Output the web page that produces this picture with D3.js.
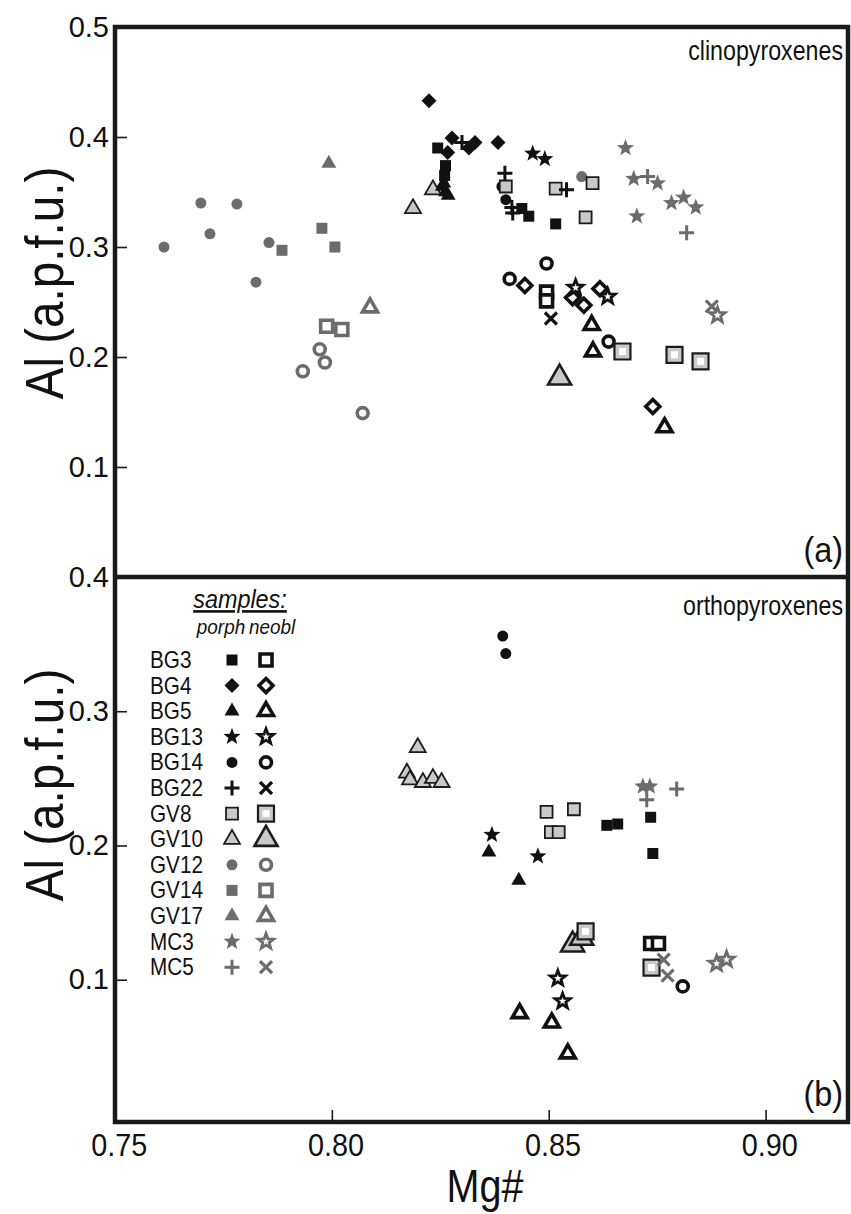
<!DOCTYPE html>
<html><head><meta charset="utf-8">
<script src="https://cdn.jsdelivr.net/npm/d3@7"></script>
<style>body{margin:0;background:#fff} svg{display:block;font-family:"Liberation Sans",Arial,sans-serif}</style>
</head><body><svg id="c" width="851" height="1214"></svg>
<script>
// ---------------- DATA ----------------
const samples = ["BG3","BG4","BG5","BG13","BG14","BG22","GV8","GV10","GV12","GV14","GV17","MC3","MC5"];
const xTicks = [0.75, 0.80, 0.85, 0.90];
const cpxTicks = [0.1, 0.2, 0.3, 0.4, 0.5];
const opxTicks = [0.1, 0.2, 0.3, 0.4];

// clinopyroxenes, porphyroclasts: [sample, Mg#, Al]
const cpxPorph = [
  ["GV12",0.7698,0.340],["GV12",0.7781,0.339],["GV12",0.7719,0.312],["GV12",0.7613,0.300],["GV12",0.7855,0.304],["GV12",0.7825,0.268],["GV12",0.8576,0.364],
  ["GV14",0.7885,0.297],["GV14",0.7977,0.317],["GV14",0.8007,0.300],
  ["GV17",0.7993,0.376],
  ["GV10",0.8187,0.335],["GV10",0.8233,0.352],
  ["BG14",0.8392,0.355],["BG14",0.8401,0.343],
  ["GV8",0.8401,0.355],["GV8",0.8516,0.353],["GV8",0.8601,0.358],["GV8",0.8585,0.327],
  ["BG4",0.8224,0.433],["BG4",0.8277,0.399],["BG4",0.8267,0.386],["BG4",0.8316,0.390],["BG4",0.8330,0.395],["BG4",0.8383,0.395],
  ["BG3",0.8244,0.390],["BG3",0.8262,0.374],["BG3",0.8260,0.365],["BG3",0.8438,0.335],["BG3",0.8454,0.328],["BG3",0.8516,0.321],
  ["BG5",0.8258,0.358],["BG5",0.8262,0.350],["BG5",0.8255,0.355],["BG5",0.8268,0.347],
  ["BG22",0.8300,0.395],["BG22",0.8399,0.367],["BG22",0.8415,0.336],["BG22",0.8417,0.331],["BG22",0.8541,0.352],
  ["BG13",0.8463,0.385],["BG13",0.8491,0.380],
  ["MC3",0.8677,0.390],["MC3",0.8696,0.362],["MC3",0.8751,0.358],["MC3",0.8783,0.340],["MC3",0.8811,0.345],["MC3",0.8839,0.336],["MC3",0.8703,0.328],
  ["MC5",0.8728,0.364],["MC5",0.8818,0.313]
];
// clinopyroxenes, neoblasts
const cpxNeobl = [
  ["GV17",0.8088,0.245],
  ["GV14",0.7988,0.228],["GV14",0.8023,0.225],
  ["GV12",0.7972,0.207],["GV12",0.7984,0.195],["GV12",0.7933,0.187],["GV12",0.8071,0.149],
  ["BG14",0.8495,0.285],["BG14",0.8410,0.271],["BG14",0.8638,0.214],
  ["BG4",0.8445,0.265],["BG4",0.8555,0.254],["BG4",0.8581,0.247],["BG4",0.8618,0.262],["BG4",0.8740,0.155],
  ["BG3",0.8495,0.259],["BG3",0.8495,0.251],
  ["BG22",0.8505,0.235],
  ["BG13",0.8562,0.263],["BG13",0.8636,0.255],
  ["BG5",0.8599,0.229],["BG5",0.8602,0.205],["BG5",0.8767,0.136],
  ["GV8",0.8670,0.205],["GV8",0.8790,0.202],["GV8",0.8850,0.196],
  ["GV10",0.8525,0.181],
  ["MC5",0.8876,0.246],
  ["MC3",0.8889,0.238]
];
// orthopyroxenes, porphyroclasts
const opxPorph = [
  ["BG14",0.8394,0.356],["BG14",0.8401,0.343],
  ["GV10",0.8198,0.273],["GV10",0.8173,0.254],["GV10",0.8180,0.249],["GV10",0.8210,0.247],["GV10",0.8233,0.250],["GV10",0.8253,0.247],
  ["BG13",0.8369,0.208],["BG13",0.8475,0.192],
  ["BG5",0.8362,0.195],["BG5",0.8431,0.174],
  ["MC3",0.8717,0.244],["MC3",0.8733,0.244],
  ["MC5",0.8726,0.234],["MC5",0.8795,0.242],
  ["GV8",0.8495,0.225],["GV8",0.8558,0.227],["GV8",0.8505,0.210],["GV8",0.8523,0.210],
  ["BG3",0.8634,0.215],["BG3",0.8659,0.216],["BG3",0.8735,0.221],["BG3",0.8740,0.194]
];
// orthopyroxenes, neoblasts
const opxNeobl = [
  ["GV10",0.8555,0.126],["GV10",0.8576,0.131],
  ["GV8",0.8585,0.136],["GV8",0.8737,0.109],
  ["BG3",0.8735,0.127],["BG3",0.8753,0.127],
  ["MC5",0.8765,0.115],["MC5",0.8774,0.103],
  ["BG14",0.8809,0.095],
  ["MC3",0.8887,0.112],["MC3",0.8910,0.115],
  ["BG13",0.8521,0.101],["BG13",0.8532,0.084],
  ["BG5",0.8433,0.075],["BG5",0.8507,0.068],["BG5",0.8544,0.045]
];

// ---------------- STYLE ----------------
const shapeOf = {BG3:"square",BG4:"diamond",BG5:"triangle",BG13:"star",BG14:"circle",BG22:"plus",
  GV8:"square",GV10:"triangle",GV12:"circle",GV14:"square",GV17:"triangle",MC3:"star",MC5:"plus"};
const toneOf = {BG3:"k",BG4:"k",BG5:"k",BG13:"k",BG14:"k",BG22:"k",GV8:"l",GV10:"l",GV12:"g",GV14:"g",GV17:"g",MC3:"g",MC5:"g"};
const COL = {k:"#111111", g:"#6c6c6c"};
const LIGHT = "#c9c9c9", EDGE = "#1c1c1c";

function starPath(R, r){
  let p = "";
  for(let i=0;i<10;i++){
    const a = -Math.PI/2 + i*Math.PI/5, rr = i%2 ? r : R;
    p += (i?"L":"M") + (rr*Math.cos(a)).toFixed(2) + "," + (rr*Math.sin(a)).toFixed(2);
  }
  return p + "Z";
}
function shapePath(shape, s){
  switch(shape){
    case "square": return `M${-s/2},${-s/2}h${s}v${s}h${-s}Z`;
    case "diamond": return `M0,${-s/2}L${s/2},0L0,${s/2}L${-s/2},0Z`;
    case "triangle": { const h = s*0.866; return `M0,${-2*h/3}L${s/2},${h/3}L${-s/2},${h/3}Z`; }
    case "star": return starPath(s/2, s/2*0.42);
    case "circle": { const r = s/2; return `M${r},0A${r},${r} 0 1,1 ${-r},0A${r},${r} 0 1,1 ${r},0Z`; }
    case "plus": return `M${-s/2},0H${s/2}M0,${-s/2}V${s/2}`;
    case "cross": return `M${-s/2},${-s/2}L${s/2},${s/2}M${s/2},${-s/2}L${-s/2},${s/2}`;
  }
}
const porphSize = {square:11, diamond:15, triangle:15, star:18, circle:11, plus:15};
const neoblSize = {square:12, diamond:14, triangle:15, star:16, circle:11, plus:12};
const neoblStroke = {square:3.6, diamond:3.6, triangle:3.6, star:2.8, circle:3.6};

function drawMark(g, sample, kind, cx, cy){
  const shape = shapeOf[sample], tone = toneOf[sample];
  const t = g.append("g").attr("transform", `translate(${cx},${cy})`);
  if(kind === "porph"){
    const s = porphSize[shape];
    if(shape === "plus"){
      t.append("path").attr("d", shapePath("plus", s)).attr("fill","none").attr("stroke",COL[tone]).attr("stroke-width",3);
    } else if(tone === "l"){
      t.append("path").attr("d", shapePath(shape, s+1)).attr("fill",LIGHT).attr("stroke",EDGE).attr("stroke-width",1.8).attr("stroke-linejoin","miter");
    } else {
      t.append("path").attr("d", shapePath(shape, s)).attr("fill",COL[tone]);
    }
  } else {
    const s = neoblSize[shape];
    if(shape === "plus"){
      t.append("path").attr("d", shapePath("cross", s)).attr("fill","none").attr("stroke",COL[tone]).attr("stroke-width",3.2);
    } else if(tone === "l" && shape === "square"){
      t.append("path").attr("d", shapePath("square", 16)).attr("fill",LIGHT).attr("stroke",EDGE).attr("stroke-width",2.2);
      t.append("path").attr("d", shapePath("square", 7)).attr("fill","#fff");
    } else if(tone === "l"){
      t.append("path").attr("d", shapePath("triangle", 23)).attr("fill",LIGHT).attr("stroke",EDGE).attr("stroke-width",2.6).attr("stroke-linejoin","miter");
    } else {
      t.append("path").attr("d", shapePath(shape, s)).attr("fill","#fff").attr("stroke",COL[tone]).attr("stroke-width",neoblStroke[shape]).attr("stroke-linejoin","miter");
    }
  }
}

// ---------------- SCALES ----------------
const svg = d3.select("#c");
const x = d3.scaleLinear().domain([0.75, 0.919]).range([115, 848]);
const yTop = d3.scaleLinear().domain([0, 0.5]).range([577, 27]);
const yBot = d3.scaleLinear().domain([-0.006, 0.4]).range([1122, 577]);

// ---------------- AXES ----------------
function leftAxis(scale, ticks){
  const g = svg.append("g").attr("transform","translate(115,0)")
    .call(d3.axisLeft(scale).tickValues(ticks).tickFormat(d3.format(".1f")).tickSizeInner(-12).tickSizeOuter(0).tickPadding(6));
  g.select(".domain").remove();
  g.selectAll(".tick line").attr("stroke","#1a1a1a").attr("stroke-width",1.6);
  g.selectAll(".tick text").attr("font-size",29).attr("fill","#111").attr("font-family","Liberation Sans, Arial, sans-serif");
  return g;
}
leftAxis(yTop, cpxTicks);
leftAxis(yBot, opxTicks);

const gX = svg.append("g").attr("transform","translate(0,1122)")
  .call(d3.axisBottom(x).tickValues(xTicks).tickFormat(d3.format(".2f")).tickSizeInner(-12).tickSizeOuter(0).tickPadding(12));
gX.select(".domain").remove();
gX.selectAll(".tick line").attr("stroke","#1a1a1a").attr("stroke-width",1.6);
gX.selectAll(".tick text").attr("font-size",31).attr("fill","#111").attr("dx",4).attr("font-family","Liberation Sans, Arial, sans-serif")
  .attr("transform","scale(0.93,1)");

// ---------------- MARKS ----------------
const gm = svg.append("g");
cpxPorph.forEach(d => drawMark(gm, d[0], "porph", x(d[1]), yTop(d[2])));
cpxNeobl.forEach(d => drawMark(gm, d[0], "neobl", x(d[1]), yTop(d[2])));
opxPorph.forEach(d => drawMark(gm, d[0], "porph", x(d[1]), yBot(d[2])));
opxNeobl.forEach(d => drawMark(gm, d[0], "neobl", x(d[1]), yBot(d[2])));

// ---------------- FRAME ----------------
svg.append("rect").attr("x",115).attr("y",27).attr("width",733).attr("height",1095)
  .attr("fill","none").attr("stroke","#1a1a1a").attr("stroke-width",4.5);
svg.append("line").attr("x1",115).attr("x2",848).attr("y1",577).attr("y2",577)
  .attr("stroke","#1a1a1a").attr("stroke-width",4.5);

// ---------------- TEXT ----------------
function narrowText(x0, y0, str, size, anchor, sx, extra){
  const t = svg.append("text").attr("transform",`translate(${x0},${y0}) scale(${sx},1)`)
    .attr("text-anchor",anchor).attr("font-size",size).attr("fill","#111").text(str);
  if(extra) extra(t);
  return t;
}
narrowText(843, 60, "clinopyroxenes", 27, "end", 0.86);
narrowText(843, 615, "orthopyroxenes", 27, "end", 0.86);
narrowText(843, 562, "(a)", 36, "end", 0.9);
narrowText(843, 1106, "(b)", 36, "end", 0.9);

[283, 785].forEach(cy => {
  svg.append("text").attr("transform",`translate(63,${cy}) rotate(-90) scale(0.88,1)`).attr("text-anchor","middle")
    .attr("font-size",54).attr("fill","#111").text("Al (a.p.f.u.)");
});
narrowText(485, 1202, "Mg#", 46, "middle", 0.86);

// ---------------- LEGEND ----------------
const lg = svg.append("g");
narrowText(240, 608, "samples:", 26, "middle", 0.9, t => t.attr("font-style","italic").attr("text-decoration","underline"));
narrowText(221, 634, "porph", 21, "middle", 0.9, t => t.attr("font-style","italic"));
narrowText(272, 634, "neobl", 21, "middle", 0.9, t => t.attr("font-style","italic"));
samples.forEach((s,i) => {
  const cy = 660 + i*25.6;
  lg.append("text").attr("transform",`translate(150,${cy+8}) scale(0.9,1)`).attr("font-size",23).attr("fill","#111").text(s);
  drawMark(lg, s, "porph", 232, cy);
  drawMark(lg, s, "neobl", 266, cy);
});
</script></body></html>
